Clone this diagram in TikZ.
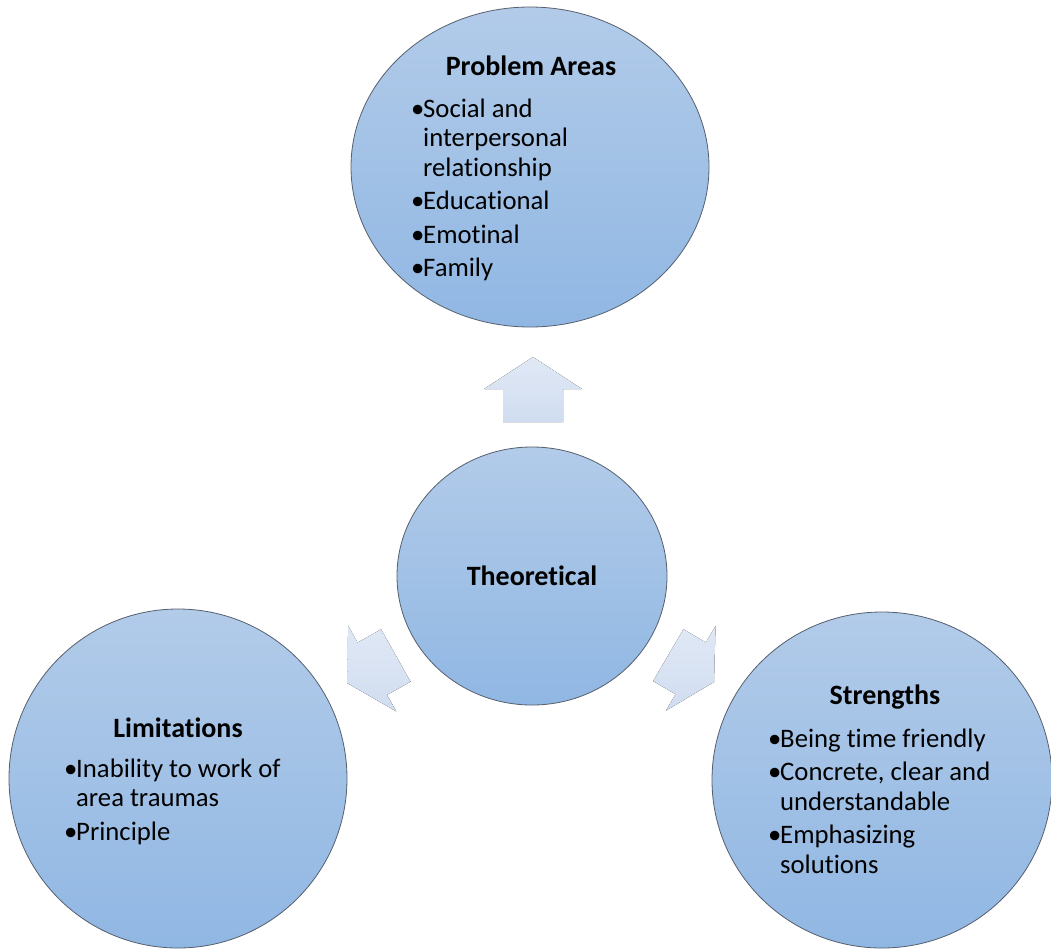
\documentclass[tikz,border=0pt]{standalone}
\usepackage{fontspec}
\setmainfont{Carlito}[Ligatures=NoCommon]
\usetikzlibrary{shapes.geometric,calc}
\newcommand*{\bulW}{12pt}
\newcommand{\bul}[1]{\par\hangindent=\bulW\hangafter=1\noindent\makebox[\bulW][l]{•}#1}
\newcommand{\blist}[1]{\parbox[t]{10cm}{\setlength{\parskip}{4pt}#1}}
% tip, rotation, head length, total length
\newcommand{\blockarrow}[4]{%
	\fill[arrowfill,shift={#1},rotate=#2] (0,0) -- (-#3,49) -- (-#3,30) -- (-#4,30) -- (-#4,-30) -- (-#3,-30) -- (-#3,-49) -- cycle;}
\tikzset{
	bubble/.style={ellipse, inner sep=0pt, draw={rgb,255:red,85;green,95;blue,110}, line width=0.8pt,
		top color={rgb,255:red,178;green,203;blue,233}, bottom color={rgb,255:red,144;green,183;blue,227}},
	arrowfill/.style={top color={rgb,255:red,224;green,232;blue,245}, bottom color={rgb,255:red,208;green,221;blue,240}},
	txt/.style={inner sep=0pt, font=\fontsize{26.7}{29.5}\selectfont},
	head/.style={txt, font=\fontsize{28}{30}\selectfont\bfseries, anchor=base},
}
\begin{document}
\begin{tikzpicture}[x=1pt,y=-1pt]
	\useasboundingbox[fill=white] (0,0) rectangle (1051,951);
	
	% arrows out of the middle
	\blockarrow{(533,357)}{90}{32}{65}
	\blockarrow{(347,683)}{209.4}{29}{56}
	\blockarrow{(714,682)}{-30.4}{27}{53}
	
	\node[bubble, minimum width=358, minimum height=320] (prob) at (530,167) {};
	\node[bubble, minimum width=270, minimum height=258] (theo) at (532,576) {};
	\node[bubble, minimum width=338, minimum height=339] (lim) at (178,778.5) {};
	\node[bubble, minimum width=340, minimum height=336] (str) at (882,780) {};
	
	\node[head] (probT) at (531,75) {Problem Areas};
	\node[txt, anchor=base west] (probL) at (411,117) {\blist{\bul{Social and\newline interpersonal\newline relationship}\bul{Educational}\bul{Emotinal}\bul{Family}}};
	
	\node[head] (theoT) at (532,585) {Theoretical};
	
	\node[head] (limT) at (178,737) {Limitations};
	\node[txt, anchor=base west] (limL) at (64,777) {\blist{\bul{Inability to work of\newline area traumas}\bul{Principle}}};
	
	\node[head] (strT) at (885,704) {Strengths};
	\node[txt, anchor=base west] (strL) at (768,747) {\blist{\bul{Being time friendly}\bul{Concrete, clear and\newline understandable}\bul{Emphasizing\newline solutions}}};
\end{tikzpicture}
\end{document}
